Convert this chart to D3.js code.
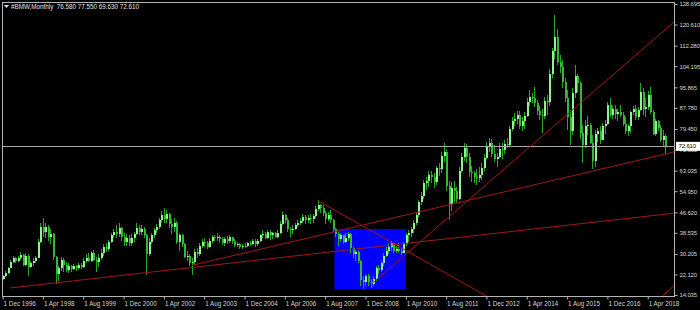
<!DOCTYPE html>
<html><head><meta charset="utf-8">
<script src="https://cdn.jsdelivr.net/npm/d3@7"></script>
<style>html,body{margin:0;padding:0;background:#000;overflow:hidden}</style>
</head><body><svg id="c" width="700" height="310"></svg>
<script>
// ---- data (monthly bars, Dec 1996 .. Nov 2018) ----
const symbolTitle = "#BMW,Monthly";
const headerOHLC = ["76.580", "77.550", "69.630", "72.610"];
const firstOpen = 20.5;
const closes = [21.5,22.8,24.5,27,28.5,27.5,28.8,29.8,26,29.5,25,26.5,27.5,28.8,35,41,39,41,37,38,29,22.5,24.5,28,26,24,25.5,24.2,25.5,24.5,26,25,27.5,28.8,27.5,30.5,28,27,28.5,30.5,33,32,35,37.5,39,38,40.5,37,35,36.5,34.5,36.5,38,40.5,39,40,37.5,30,35,37.5,39.5,40.8,43.5,45.5,44,46,42,41,42.5,35,37.5,34,29,29.5,26.5,27,31,30,33.5,35,34.5,32.8,35.5,36.8,36.5,36.8,36,34.5,36,35.5,36.8,35.5,33.8,34,32.8,33.5,33.2,34.5,34.2,35.5,34,35.5,37.5,38.2,36.5,38.8,37.5,38.5,37,38.5,42,45.5,43.5,40,39.5,40,41.5,42.5,43,44.8,43.5,44.5,43.8,45,48,49.5,48.3,46.5,44,45.5,43.5,40,38,36,37.5,35,36.5,38,32.5,30,31,27.5,20,19,21.5,19,18.5,20.5,24.5,24,26.5,29.5,31.5,33,34.5,31.5,32,31.5,30.5,34,37.5,38.5,40,42.4,45.5,50.5,53,58,59,61.5,60.5,58.5,64,63.5,69,70.5,57,50,56,55,52,63,68.5,72,68.5,62.5,62,60.5,60,61.5,64,68,72.5,74,69.5,67.5,68.5,71.5,71,73.5,73,79.5,82.5,83.5,85,80.5,82.5,84.5,90,92,91.5,89.5,86.5,85,84.5,90.5,90,101,110,115.5,106,104,98,91.5,84,78.5,93.5,100.5,97.5,78,73,80.5,81,74,67,77.5,78.5,75,80.5,81.5,88.8,85,87.5,85.5,86,85,81.5,78.5,80.5,86,87.5,84,86.8,94,87.5,88,93,86,77.5,82.5,80,75,76.58,72.61];
const highs = [22,23.5,25,28,29.5,29,29.5,30.8,30,30.5,30,27.5,28.5,29.5,36,42.5,44.4,42.5,41.5,40,38.5,29.5,25.5,29,28.5,27,26.5,26,26.2,26,26.5,26.8,28.5,30,30.5,31.5,31.8,29,30,32,34,34.5,35.7,38.5,40,41.5,42.4,41,38.5,38,37.5,38,39,42.4,41.5,41.5,41,38,36.5,38.5,40.5,42,44.5,47,48.3,47.5,46.5,44,44.5,43,38.5,38,34.5,31.5,30,28.5,32,32.5,34.5,36,36.5,35.5,36.5,37.5,37.8,38.5,37.8,37,37,37.2,37.5,37,36,34.8,34.5,34.2,34.5,35,35.2,36,36,36.2,38,39.5,38.8,39.7,39.5,39,39,39.5,43,46.6,46,44.5,41,41.5,42.5,43.5,44.5,46,45.5,45.5,45.8,46,49.2,51.3,50,49.5,47,46.8,47.5,44,40.5,38.8,38.5,37.8,38.5,38.8,38.5,33,31.8,31.5,27.8,21.5,22.5,22.5,20.5,21.5,25.5,26,27.5,30.5,33,34.5,35.5,34.5,33.2,34.5,32.5,34.8,38.5,39.8,41,43.5,46.5,51.5,54.5,59.5,60.5,63,63,62,65,66,70.5,73.9,71,59,58.5,59,56.5,64.5,70,74,73.5,70,65,63,63.5,64.5,66,69.5,74.5,76,75.5,73,70,74,74,75,76,80.5,84,85.7,86.5,86.5,84,86,91.5,94.8,93.5,96,91,88.5,87.5,92,93,103,111.5,124.4,119,108.5,106.5,99.5,95,87,95.5,104.7,101,98.5,81,83,84.5,82,77,79,80,80.5,82,83,90,91.7,88.5,89,87.5,89,86,84,81.5,86.5,88.5,89,88,97.6,95.5,91.5,94.5,96,87,83.5,83,81,79,77.55];
const lows = [19.8,21,22.5,24.5,26.5,26.5,27,28,25.5,25.5,21.5,24.5,25.5,26.5,28.5,34.5,37,36.5,35.5,34,28,18.5,19.5,23.5,23,23,22.8,23.2,23.8,23.5,24,24.2,24.8,26.5,27,27,27.5,23,25,28,29.5,31,31.5,34.5,36.5,36.5,37,35.5,33.5,33.5,33.5,33.5,35,37.5,37.8,37.5,36.5,22,29.5,34,36.5,38.5,40,42.5,42.5,42.5,40.5,38,39,34,31.5,33,28.5,27.5,25.5,21.9,26,28.5,29.5,32.5,33,32,32.5,34.5,35.5,35.5,34.5,33.8,33.5,34,34.5,34,33,32.8,32,32.2,32.5,32.8,33.2,33.8,32.8,33.5,35,36.5,36,36,35.8,36.2,36.5,36.5,38,41.5,42.5,38.9,37,38,39.5,40.8,41.5,42.5,42,42.5,42,42.5,44.5,47,46.5,45,42,43,42.5,39,37,33.5,35,34,34.5,35.5,30.5,28.5,27.5,26.5,17.5,16.5,17.5,17.5,16.8,17.6,19.5,22.5,23,25.5,29,30,31.5,30.5,30.5,30.5,29.8,30.5,33.5,35,37,38.5,41.5,44.8,49.5,52,55.5,56.5,58,56,57.5,61,62,66.5,55,43.6,47,50.5,50.3,51.5,62,67,66,60.5,58.5,58,57.5,58.5,59.5,63,67.5,70.5,68.5,66.5,64.5,68,67.5,69.5,72,72.5,78.5,80.5,81.5,79.5,78.5,79.5,84,88.5,89.5,88,85,83,77.9,83.5,85,88.5,99.5,107,104.5,101.5,95.5,90,79,73,77,91.5,94,75.5,66,72,77,73.5,63.8,64.5,74.5,73.5,75,77.5,81,84,83.5,83.5,82.5,84,80.5,77.5,76.5,78,85,83,83,86.5,85,84,87,85.5,77,76.5,78.5,74.5,72.5,69.63];
const opens = closes.map((c, i) => i === 0 ? firstOpen : closes[i - 1]);

const xTickIndex = [0,16,32,48,64,80,96,112,128,144,160,176,192,208,224,240,256];
const xTickLabels = ["1 Dec 1996","1 Apr 1998","1 Aug 1999","1 Dec 2000","1 Apr 2002","1 Aug 2003","1 Dec 2004","1 Apr 2006","1 Aug 2007","1 Dec 2008","1 Apr 2010","1 Aug 2011","1 Dec 2012","1 Apr 2014","1 Aug 2015","1 Dec 2016","1 Apr 2018"];
const yTickValues = [128.695,120.610,112.280,104.195,95.865,87.780,79.450,71.365,63.035,54.950,46.620,38.535,30.205,22.120,14.035];
const lastPrice = 72.610;

// trend lines: anchor points in (bar index, price)
const lineStart = [[3,16.8],[75,25.7],[125,51.3],[146.4,18.4],[262,13.65]];
const lineEnd   = [[264,46.0],[263,69.6],[192,13.6],[265.5,120.8],[266,17.4]];
const lineRay   = [true,true,false,true,true];
// highlight box (bar index range, price range)
const boxIndex = [131.7,160];
const boxPrice = [16.4,40.0];

// ---- drawing ----
const W = 700, H = 310;
const plot = {l:2, t:2, r:674, b:296};
const svg = d3.select("#c");
const x = d3.scaleLinear().domain([0, 263]).range([2.6, 2.6 + 263*2.52]);
const y = d3.scaleLinear().domain([14.035, 128.695]).range([295, 4]);
const font = "'Liberation Sans', Arial, sans-serif";

svg.append("rect").attr("width", W).attr("height", H).attr("fill", "#000");
svg.append("clipPath").attr("id","pc").append("rect")
  .attr("x", plot.l).attr("y", plot.t).attr("width", plot.r-plot.l).attr("height", plot.b-plot.t);
const g = svg.append("g").attr("clip-path","url(#pc)");

// box (background object)
g.append("rect")
  .attr("x", x(boxIndex[0])).attr("y", y(boxPrice[1]))
  .attr("width", x(boxIndex[1]) - x(boxIndex[0]))
  .attr("height", y(boxPrice[0]) - y(boxPrice[1]))
  .attr("fill", "#0000ff");

// candles
const bars = d3.range(closes.length);
const cg = g.append("g").attr("shape-rendering","crispEdges");
cg.selectAll("rect.w").data(bars).join("rect").attr("class","w")
  .attr("x", i => Math.round(x(i)))
  .attr("y", i => y(highs[i]))
  .attr("width", 1)
  .attr("height", i => Math.max(1, y(lows[i]) - y(highs[i])))
  .attr("fill", "#22a822");
cg.selectAll("rect.b").data(bars).join("rect").attr("class","b")
  .attr("x", i => Math.round(x(i)) - 0.5)
  .attr("y", i => y(Math.max(opens[i], closes[i])))
  .attr("width", 2)
  .attr("height", i => Math.max(1, Math.abs(y(opens[i]) - y(closes[i]))))
  .attr("fill", i => closes[i] >= opens[i] ? "#8ef58e" : "#35b835");

// last price line
g.append("line").attr("x1", plot.l).attr("x2", plot.r)
  .attr("y1", Math.round(y(lastPrice)) + 0.5).attr("y2", Math.round(y(lastPrice)) + 0.5)
  .attr("stroke", "#a8a8a8").attr("stroke-width", 1);

// trend lines
lineStart.forEach((s, k) => {
  const e = lineEnd[k];
  let ex = e[0], ep = e[1];
  if (lineRay[k]) {
    const slope = (e[1] - s[1]) / (e[0] - s[0]);
    ex = x.invert(plot.r);
    ep = s[1] + slope * (ex - s[0]);
  }
  g.append("line")
    .attr("x1", x(s[0])).attr("y1", y(s[1]))
    .attr("x2", x(ex)).attr("y2", y(ep))
    .attr("stroke", "#a31818").attr("stroke-width", 1);
});

// frame
const fr = svg.append("g").attr("shape-rendering","crispEdges");
fr.append("line").attr("x1", plot.l+0.5).attr("x2", plot.l+0.5).attr("y1", plot.t).attr("y2", plot.b).attr("stroke","#b4b4b4");
fr.append("line").attr("x1", plot.l).attr("x2", plot.r).attr("y1", plot.t+0.5).attr("y2", plot.t+0.5).attr("stroke","#b4b4b4");
fr.append("line").attr("x1", plot.r+0.5).attr("x2", plot.r+0.5).attr("y1", plot.t).attr("y2", plot.b+1).attr("stroke","#b4b4b4");
fr.append("line").attr("x1", plot.l).attr("x2", plot.r+1).attr("y1", plot.b+0.5).attr("y2", plot.b+0.5).attr("stroke","#b4b4b4");

// y axis (right)
const yAxis = d3.axisRight(y).tickValues(yTickValues).tickSize(3).tickPadding(2)
  .tickFormat(d3.format(".3f"));
const ya = svg.append("g").attr("transform", `translate(${plot.r+0.5},0)`).call(yAxis);
ya.select(".domain").remove();
ya.selectAll("line").attr("stroke","#b4b4b4");
ya.selectAll("text").attr("fill","#d4d4d4").style("font-family", font).style("font-size","6px")
  .style("letter-spacing","-0.15px");

// x axis (bottom)
const xAxis = d3.axisBottom(x).tickValues(xTickIndex).tickSize(3).tickPadding(2)
  .tickFormat((d, k) => xTickLabels[k]);
const xa = svg.append("g").attr("transform", `translate(0,${plot.b+0.5})`).call(xAxis);
xa.select(".domain").remove();
xa.selectAll("line").attr("stroke","#b4b4b4");
xa.selectAll("text").attr("fill","#d4d4d4").style("font-family", font).style("font-size","6.3px")
  .attr("text-anchor","start").attr("x", 0.5).attr("dy", "0.75em");

// last price label (covers the 71.365 tick label as in the reference)
const lp = svg.append("g").attr("transform", `translate(${plot.r+2},${y(lastPrice)})`);
lp.append("rect").attr("x", 0).attr("y", -4.5).attr("width", 24).attr("height", 9).attr("fill", "#ffffff");
lp.append("text").attr("x", 2.5).attr("y", 0).attr("dy", "0.35em").text(lastPrice.toFixed(3))
  .attr("fill", "#000").style("font-family", font).style("font-size", "6px").style("letter-spacing","-0.15px");

// header
svg.append("path").attr("d", "M4,5 L9,5 L6.5,8 Z").attr("fill", "#e0e0e0");
svg.append("text").attr("x", 11).attr("y", 9)
  .style("font-family", font).style("font-size", "6.3px").attr("fill", "#e0e0e0")
  .attr("xml:space","preserve")
  .text(symbolTitle + "  " + headerOHLC.join(" "));
</script></body></html>
